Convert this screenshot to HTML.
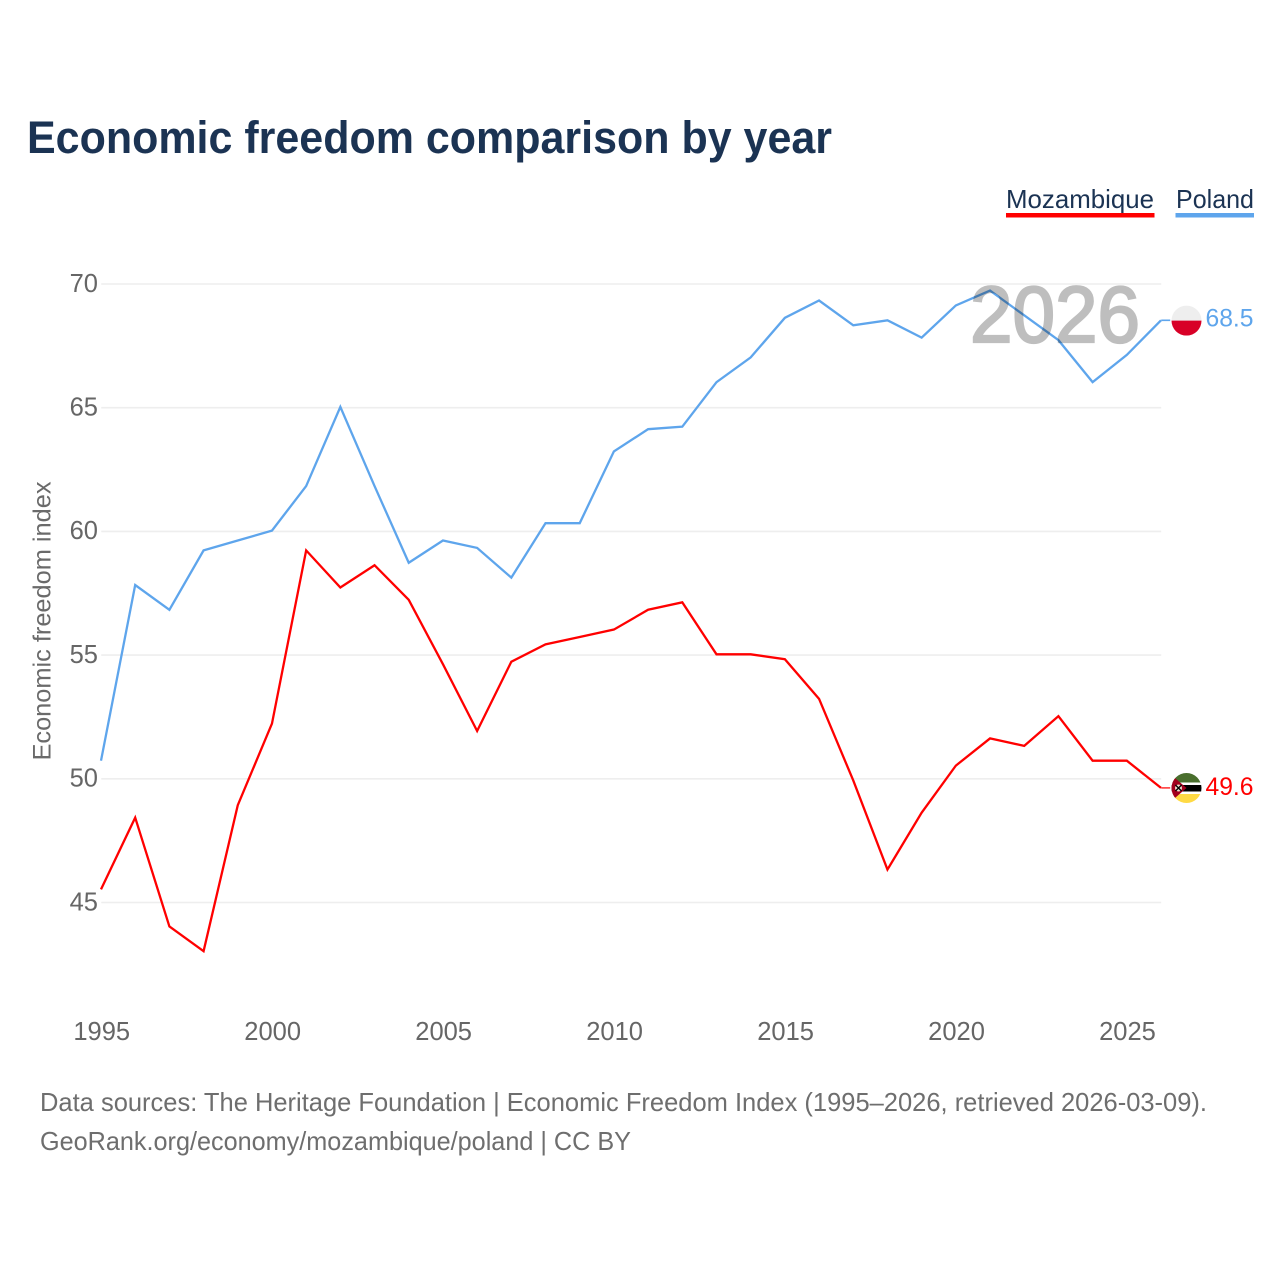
<!DOCTYPE html>
<html lang="en">
<head>
<meta charset="utf-8">
<title>Economic freedom comparison by year</title>
<style>
html,body{margin:0;padding:0;background:#fff;width:1280px;height:1280px;overflow:hidden}
svg{display:block}
text{font-family:"Liberation Sans",sans-serif}
</style>
</head>
<body>
<svg id="chart" xmlns="http://www.w3.org/2000/svg" width="1280" height="1280" viewBox="0 0 1280 1280">
  <defs>
    <clipPath id="flag-clip"><circle cx="0" cy="0" r="15"></circle></clipPath>
  </defs>
  <rect x="0" y="0" width="1280" height="1280" fill="#ffffff"></rect>
  <text x="27" y="153" font-size="45" font-weight="700" fill="#1b3353" textLength="805" lengthAdjust="spacingAndGlyphs">Economic freedom comparison by year</text>

  <g>
    <g>
      <text x="1006" y="208" font-size="26" fill="#1b3353" textLength="148" lengthAdjust="spacingAndGlyphs">Mozambique</text>
      <rect x="1006" y="213" width="148.5" height="4.5" fill="#ff0000"></rect>
    </g>
    <g>
      <text x="1176" y="208" font-size="26" fill="#1b3353" textLength="78" lengthAdjust="spacingAndGlyphs">Poland</text>
      <rect x="1175.5" y="213" width="78.5" height="4.5" fill="#5ea5ec"></rect>
    </g>
  </g>

  <g id="grid"></g>
  <g id="y-axis"></g>
  <g id="x-axis"></g>
  <text transform="translate(50.5,621) rotate(-90)" text-anchor="middle" font-size="25" fill="#6a6a6a" textLength="279" lengthAdjust="spacingAndGlyphs">Economic freedom index</text>

  <g id="series" transform="translate(-0.2,-0.8)"></g>
  <text id="year-watermark" x="970" y="342" font-size="80" fill="#000000" stroke="#000000" stroke-width="2.2" opacity="0.25" textLength="170" lengthAdjust="spacingAndGlyphs">2026</text>
  <g id="end-labels"></g>

  <text x="40" y="1111" font-size="26" fill="#6e6e6e" textLength="1167" lengthAdjust="spacingAndGlyphs">Data sources: The Heritage Foundation | Economic Freedom Index (1995–2026, retrieved 2026-03-09).</text>
  <text x="40" y="1150" font-size="26" fill="#6e6e6e" textLength="591" lengthAdjust="spacingAndGlyphs">GeoRank.org/economy/mozambique/poland | CC BY</text>
</svg>
<script>
const years = [1995,1996,1997,1998,1999,2000,2001,2002,2003,2004,2005,2006,2007,2008,2009,2010,2011,2012,2013,2014,2015,2016,2017,2018,2019,2020,2021,2022,2023,2024,2025,2026];
const mozambiqueValues = [45.5,48.4,44.0,43.0,48.9,52.2,59.2,57.7,58.6,57.2,54.6,51.9,54.7,55.4,55.7,56.0,56.8,57.1,55.0,55.0,54.8,53.2,49.9,46.3,48.6,50.5,51.6,51.3,52.5,50.7,50.7,49.6];
const polandValues = [50.7,57.8,56.8,59.2,59.6,60.0,61.8,65.0,61.8,58.7,59.6,59.3,58.1,60.3,60.3,63.2,64.1,64.2,66.0,67.0,68.6,69.3,68.3,68.5,67.8,69.1,69.7,68.7,67.7,66.0,67.1,68.5];
const yTicks = [45,50,55,60,65,70];
const xTicks = [1995,2000,2005,2010,2015,2020,2025];

const NS = 'http://www.w3.org/2000/svg';
const plotLeft = 101.2, plotRight = 1161.2, yTop = 284, yBottom = 902.5;
const xScale = function (year) { return plotLeft + (year - 1995) * (plotRight - plotLeft) / (2026 - 1995); };
const yScale = function (value) { return yTop + (70 - value) * (yBottom - yTop) / (70 - 45); };
const make = function (tag, parent) {
  const el = document.createElementNS(NS, tag);
  parent.appendChild(el);
  return el;
};

const gridGroup = document.getElementById('grid');
const yAxisGroup = document.getElementById('y-axis');
const xAxisGroup = document.getElementById('x-axis');
const seriesGroup = document.getElementById('series');
const endGroup = document.getElementById('end-labels');

yTicks.forEach(function (tick) {
  const line = make('line', gridGroup);
  
  
  line.setAttribute('x1', plotLeft);
  line.setAttribute('x2', plotRight);
  line.setAttribute('y1', yScale(tick));
  line.setAttribute('y2', yScale(tick));
  line.setAttribute('stroke', '#eeeeee');
  line.setAttribute('stroke-width', '1.6');
  const label = make('text', yAxisGroup);
  
  
  label.setAttribute('x', 98);
  label.setAttribute('y', yScale(tick) + 7.8);
  label.setAttribute('text-anchor', 'end');
  label.setAttribute('font-size', '25.5');
  label.setAttribute('fill', '#666666');
  label.textContent = tick;
});

xTicks.forEach(function (tick) {
  const label = make('text', xAxisGroup);
  
  
  label.setAttribute('x', xScale(tick) + 0.5);
  label.setAttribute('y', 1040);
  label.setAttribute('text-anchor', 'middle');
  label.setAttribute('font-size', '25.5');
  label.setAttribute('fill', '#666666');
  label.textContent = tick;
});

const pointsFor = function (values) {
  return values.map(function (v, i) {
    return xScale(years[i]).toFixed(2) + ',' + yScale(v).toFixed(2);
  }).join(' ');
};

const mozLine = make('polyline', seriesGroup);


mozLine.setAttribute('points', pointsFor(mozambiqueValues));
mozLine.setAttribute('fill', 'none');
mozLine.setAttribute('stroke', '#ff0000');
mozLine.setAttribute('stroke-width', '2.3');

const polLine = make('polyline', seriesGroup);


polLine.setAttribute('points', pointsFor(polandValues));
polLine.setAttribute('fill', 'none');
polLine.setAttribute('stroke', '#5ea5ec');
polLine.setAttribute('stroke-width', '2.3');

const polLast = polandValues[polandValues.length - 1];
const mozLast = mozambiqueValues[mozambiqueValues.length - 1];
const endX = xScale(years[years.length - 1]);

const polStub = make('line', endGroup);


polStub.setAttribute('x1', endX);
polStub.setAttribute('x2', endX + 9);
polStub.setAttribute('y1', yScale(polLast) - 0.8);
polStub.setAttribute('y2', yScale(polLast) - 0.8);
polStub.setAttribute('stroke', '#5ea5ec');
polStub.setAttribute('stroke-width', '1.6');

const mozStub = make('line', endGroup);


mozStub.setAttribute('x1', endX);
mozStub.setAttribute('x2', endX + 9);
mozStub.setAttribute('y1', yScale(mozLast) - 0.8);
mozStub.setAttribute('y2', yScale(mozLast) - 0.8);
mozStub.setAttribute('stroke', '#ff3b3b');
mozStub.setAttribute('stroke-width', '1.6');

const flagX = endX + 25.3;

const polFlag = make('g', endGroup);


polFlag.setAttribute('transform', 'translate(' + flagX + ',' + (yScale(polLast) - 0.5) + ')');
polFlag.setAttribute('clip-path', 'url(#flag-clip)');
const polWhite = make('rect', polFlag);
polWhite.setAttribute('x', -15);
polWhite.setAttribute('y', -15);
polWhite.setAttribute('width', 30);
polWhite.setAttribute('height', 15);
polWhite.setAttribute('fill', '#eeeeee');
const polRed = make('rect', polFlag);
polRed.setAttribute('x', -15);
polRed.setAttribute('y', 0);
polRed.setAttribute('width', 30);
polRed.setAttribute('height', 15);
polRed.setAttribute('fill', '#d80027');

const mozFlag = make('g', endGroup);


mozFlag.setAttribute('transform', 'translate(' + flagX + ',' + (yScale(mozLast) - 0.7) + ')');
mozFlag.setAttribute('clip-path', 'url(#flag-clip)');
[['#496e2d', -15, 9.5], ['#ffffff', -5.5, 2.5], ['#000000', -3, 6.5], ['#ffffff', 3.5, 2.5], ['#ffda44', 6, 9]].forEach(function (band) {
  const r = make('rect', mozFlag);
  r.setAttribute('x', -15);
  r.setAttribute('y', band[1]);
  r.setAttribute('width', 30);
  r.setAttribute('height', band[2]);
  r.setAttribute('fill', band[0]);
});
const mozTri = make('polygon', mozFlag);
mozTri.setAttribute('points', '-15,-13 -15,13 0,0');
mozTri.setAttribute('fill', '#a2001d');
const mozStar = make('circle', mozFlag);
mozStar.setAttribute('cx', -8);
mozStar.setAttribute('cy', 0);
mozStar.setAttribute('r', 3.5);
mozStar.setAttribute('fill', '#f0e0d0');
const mozArm1 = make('line', mozFlag);
mozArm1.setAttribute('x1', -11);
mozArm1.setAttribute('y1', -3);
mozArm1.setAttribute('x2', -5);
mozArm1.setAttribute('y2', 3);
mozArm1.setAttribute('stroke', '#000000');
mozArm1.setAttribute('stroke-width', '1.3');
const mozArm2 = make('line', mozFlag);
mozArm2.setAttribute('x1', -11);
mozArm2.setAttribute('y1', 3);
mozArm2.setAttribute('x2', -5);
mozArm2.setAttribute('y2', -3);
mozArm2.setAttribute('stroke', '#000000');
mozArm2.setAttribute('stroke-width', '1.3');

const polValue = make('text', endGroup);


polValue.setAttribute('x', 1205.5);
polValue.setAttribute('y', yScale(polLast) + 5.5);
polValue.setAttribute('font-size', '25');
polValue.setAttribute('fill', '#5ea5ec');
polValue.setAttribute('textLength', '48');
polValue.setAttribute('lengthAdjust', 'spacingAndGlyphs');
polValue.textContent = polLast.toFixed(1);

const mozValue = make('text', endGroup);


mozValue.setAttribute('x', 1205.5);
mozValue.setAttribute('y', yScale(mozLast) + 6.5);
mozValue.setAttribute('font-size', '25');
mozValue.setAttribute('fill', '#ff0000');
mozValue.setAttribute('textLength', '48');
mozValue.setAttribute('lengthAdjust', 'spacingAndGlyphs');
mozValue.textContent = mozLast.toFixed(1);
</script>
</body>
</html>
